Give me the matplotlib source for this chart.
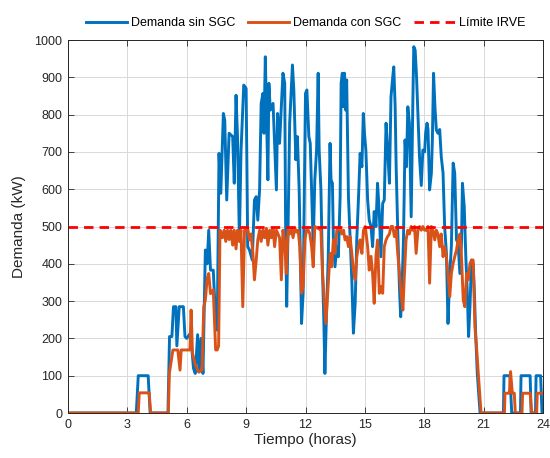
import numpy as np
import matplotlib.pyplot as plt

# Demanda sin gestión de carga (kW) frente a la hora del día
t_sin = [0, 3.45, 3.55, 4.05, 4.15, 5.05, 5.13, 5.25, 5.33, 5.45, 5.5, 5.62, 5.83, 5.91,
         6.0, 6.17, 6.26, 6.34, 6.43, 6.55, 6.63, 6.72, 6.82, 6.94, 7.03, 7.11, 7.2, 7.34,
         7.46, 7.54, 7.63, 7.72, 7.85, 7.92, 8.02, 8.14, 8.32, 8.4, 8.49, 8.57, 8.66, 8.74,
         8.88, 9.0, 9.08, 9.17, 9.31, 9.42, 9.51, 9.59, 9.68, 9.76, 9.85, 9.9, 9.97, 10.02,
         10.1, 10.15, 10.22, 10.29, 10.36, 10.44, 10.53, 10.59, 10.69, 10.78, 10.86, 10.95,
         11.0, 11.05, 11.12, 11.2, 11.34, 11.41, 11.51, 11.59, 11.68, 11.8, 11.88, 12.0,
         12.07, 12.17, 12.24, 12.31, 12.39, 12.47, 12.56, 12.64, 12.69, 12.78, 12.86, 12.93,
         12.98, 13.07, 13.15, 13.24, 13.29, 13.36, 13.41, 13.49, 13.58, 13.66, 13.75, 13.8,
         13.86, 13.92, 13.97, 14.03, 14.08, 14.17, 14.25, 14.34, 14.42, 14.51, 14.59, 14.68,
         14.76, 14.85, 14.92, 14.98, 15.05, 15.14, 15.22, 15.31, 15.39, 15.47, 15.56, 15.64,
         15.73, 15.81, 15.9, 15.98, 16.07, 16.15, 16.24, 16.32, 16.41, 16.46, 16.53, 16.58,
         16.66, 16.75, 16.81, 16.88, 16.95, 17.03, 17.1, 17.17, 17.25, 17.34, 17.42, 17.47,
         17.54, 17.61, 17.68, 17.76, 17.85, 17.93, 18.02, 18.07, 18.14, 18.19, 18.27, 18.36,
         18.41, 18.47, 18.54, 18.61, 18.69, 18.78, 18.86, 18.95, 19.03, 19.12, 19.2, 19.29,
         19.37, 19.46, 19.54, 19.63, 19.71, 19.8, 19.88, 19.93, 20.02, 20.1, 20.17, 20.24,
         20.31, 20.39, 20.47, 20.53, 20.59, 20.68, 20.82, 22.0, 22.03, 22.33, 22.42, 22.86,
         22.89, 23.35, 23.4, 23.62, 23.65, 23.88, 23.95, 24]
p_sin = [0, 0, 100, 100, 0, 0, 205, 205, 285, 285, 180, 285, 285, 205,
         200, 213, 170, 120, 106, 210, 110, 200, 106, 437, 400, 490, 383, 383,
         250, 222, 696, 589, 803, 785, 571, 750, 741, 616, 852, 732, 464, 700,
         879, 870, 446, 437, 410, 571, 580, 517, 598, 830, 857, 750, 955, 821,
         625, 884, 812, 821, 830, 723, 598, 803, 723, 821, 911, 884,
         464, 286, 500, 777, 933, 866, 679, 741, 598, 240, 321, 857,
         866, 741, 723, 598, 446, 625, 705, 911, 705, 598, 380, 240,
         106, 285, 419, 723, 625, 616, 464, 392, 446, 419, 580, 884,
         911, 821, 911, 812, 893, 580, 473, 357, 214, 294, 464, 580,
         696, 660, 803, 750, 705, 571, 517, 500, 446, 540, 500, 616,
         535, 419, 562, 571, 777, 705, 616, 848, 902, 928, 821, 660,
         491, 330, 258, 339, 464, 732, 660, 821, 777, 526, 821, 982,
         973, 902, 803, 687, 610, 705, 700, 750, 777, 760, 598, 643,
         732, 911, 821, 759, 750, 760, 687, 643, 500, 428, 240, 374,
         446, 670, 643, 464, 455, 374, 455, 616, 553, 419, 330, 205,
         285, 410, 400, 330, 223, 106, 0, 0, 100, 100, 0, 0,
         100, 100, 0, 0, 100, 100, 0, 0]

# Demanda con el sistema de gestión de carga (SGC)
t_con = [0, 3.55, 3.6, 4.1, 4.18, 5.07, 5.12, 5.3, 5.55, 5.66, 5.72, 6.16, 6.22, 6.29,
         6.43, 6.6, 6.77, 6.86, 6.94, 7.03, 7.11, 7.2, 7.34, 7.46, 7.54, 7.61, 7.68, 7.8,
         7.89, 7.97, 8.06, 8.14, 8.23, 8.32, 8.4, 8.49, 8.57, 8.66, 8.74, 8.83, 8.92, 9.0,
         9.08, 9.17, 9.25, 9.34, 9.42, 9.51, 9.59, 9.68, 9.76, 9.85, 9.93, 10.02, 10.1,
         10.19, 10.27, 10.36, 10.44, 10.53, 10.61, 10.69, 10.78, 10.86, 10.95, 11.03, 11.12,
         11.2, 11.29, 11.37, 11.46, 11.54, 11.63, 11.71, 11.8, 11.88, 11.97, 12.05, 12.14,
         12.22, 12.31, 12.39, 12.47, 12.64, 12.78, 12.86, 12.95, 13.03, 13.12, 13.19, 13.25,
         13.32, 13.41, 13.49, 13.58, 13.75, 13.83, 13.92, 14.0, 14.08, 14.17, 14.25, 14.34,
         14.42, 14.51, 14.59, 14.68, 14.76, 14.85, 14.93, 15.02, 15.14, 15.22, 15.31, 15.39,
         15.47, 15.56, 15.64, 15.73, 15.81, 15.9, 15.98, 16.07, 16.15, 16.24, 16.32, 16.41,
         16.49, 16.58, 16.66, 16.75, 16.83, 16.92, 17.0, 17.08, 17.17, 17.25, 17.34, 17.42,
         17.51, 17.59, 17.68, 17.76, 17.85, 17.93, 18.02, 18.1, 18.19, 18.27, 18.36, 18.44,
         18.53, 18.61, 18.69, 18.78, 18.86, 18.95, 19.03, 19.12, 19.2, 19.29, 19.37, 19.46,
         19.54, 19.63, 19.71, 19.8, 19.88, 19.97, 20.05, 20.14, 20.22, 20.31, 20.39, 20.47,
         20.56, 20.64, 20.73, 20.87, 22.05, 22.08, 22.3, 22.36, 22.45, 22.55, 22.6, 22.94,
         22.97, 23.35, 23.43, 23.68, 23.71, 24]
p_con = [0, 0, 54, 54, 0, 0, 106, 169, 169, 115, 169, 169, 276, 160,
         130, 110, 115, 285, 303, 360, 374, 320, 330, 169, 169, 180, 490, 470,
         490, 460, 490, 465, 490, 450, 490, 440, 490, 460, 490, 285, 490, 490,
         495, 464, 480, 428, 357, 410, 464, 490, 460, 490, 470, 495, 450,
         490, 470, 495, 446, 490, 480, 470, 357, 490, 460, 374, 490,
         480, 495, 470, 495, 485, 490, 446, 321, 340, 464, 490, 490,
         480, 446, 392, 500, 495, 490, 374, 303, 240, 321, 383, 428,
         392, 464, 428, 490, 495, 480, 490, 464, 473, 446, 473, 428,
         383, 357, 419, 446, 464, 428, 490, 500, 446, 383, 420, 374,
         294, 420, 464, 321, 339, 321, 446, 464, 473, 480, 500, 500,
         473, 490, 428, 374, 321, 276, 374, 464, 490, 480, 500, 490,
         500, 428, 490, 500, 490, 500, 490, 490, 500, 348, 500, 490,
         464, 490, 480, 446, 480, 419, 446, 419, 374, 312, 374, 401,
         419, 437, 464, 480, 419, 303, 285, 374, 357, 401, 410, 410,
         231, 178, 106, 0, 0, 53, 53, 111, 53, 53, 0, 0,
         53, 53, 0, 0, 53, 53]

limite = 500
xticks = np.arange(0, 25, 3)
yticks = np.arange(0, 1001, 100)

plt.rcParams['font.family'] = ['Liberation Sans', 'DejaVu Sans']
grey = '#262626'

fig = plt.figure(figsize=(5.5, 4.58), dpi=100)
ax = fig.add_axes([68/550, 1 - 413/458, 475/550, 373/458])

ax.plot(t_sin, p_sin, color='#0072BD', lw=2.1, label='Demanda sin SGC')
ax.plot(t_con, p_con, color='#D95319', lw=2.1, label='Demanda con SGC')
ax.axhline(limite, color='#FF0000', lw=2, dashes=(3.4, 2.2), label='Límite IRVE')

ax.set_xlim(0, 24)
ax.set_ylim(0, 1000)
ax.set_xticks(xticks)
ax.set_yticks(yticks)
ax.grid(True, color='#d9d9d9', lw=0.7)
ax.set_axisbelow(True)
ax.tick_params(direction='in', length=4, width=0.6, top=True, right=True,
               labelsize=9, colors=grey, pad=4)
for s in ax.spines.values():
    s.set_color(grey)
    s.set_linewidth(0.7)

ax.set_xlabel('Tiempo (horas)', fontsize=11, color=grey, labelpad=2)
ax.set_ylabel('Demanda (kW)', fontsize=11, color=grey, labelpad=6)

fig.legend(loc='center', bbox_to_anchor=(305.5/550, 1 - 23/458), ncol=3,
           frameon=False, fontsize=9, handlelength=3.3, handletextpad=0.3,
           columnspacing=1.0)

fig.savefig('out.png', dpi=100)
